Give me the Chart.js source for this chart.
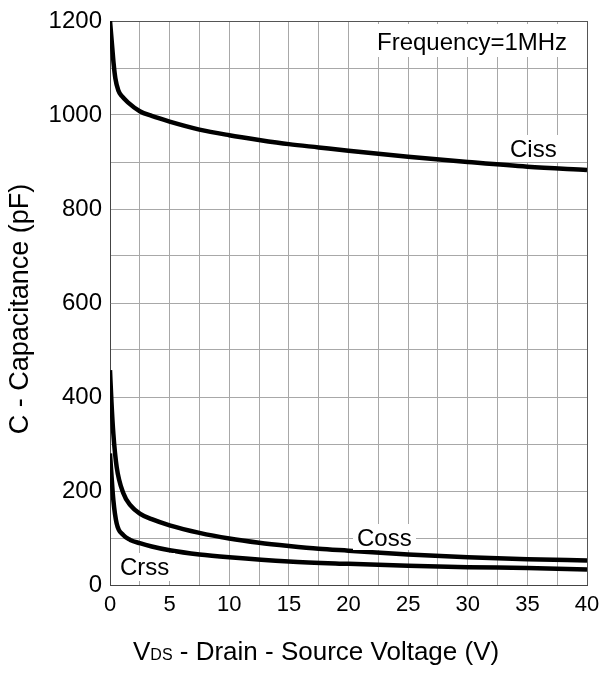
<!DOCTYPE html>
<html>
<head>
<meta charset="utf-8">
<script src="https://cdn.jsdelivr.net/npm/chart.js@4.4.1/dist/chart.umd.min.js"></script>
<style>
  html, body { margin: 0; padding: 0; background: #fff; }
  #wrap { width: 601px; height: 675px; }
</style>
</head>
<body>
<div id="wrap"><canvas id="capChart" width="601" height="675"></canvas></div>
<script>
// Capacitance vs drain-source voltage
const cissV = [0, 0.1, 0.2, 0.3, 0.45, 0.7, 1.0, 1.5, 2.5, 3.5, 5, 7.5, 10, 12.5, 15, 17.5, 20, 25, 30, 35, 40];
const cissC = [1200, 1170, 1140, 1110, 1078, 1052, 1040, 1027, 1008, 998, 986, 969, 957, 947, 938, 931, 924, 911, 900, 890, 883];

const cossV = [0, 0.12, 0.28, 0.56, 1.12, 1.7, 2.5, 3.5, 5, 7.5, 10, 12.5, 15, 17.5, 20, 25, 30, 35, 40];
const cossC = [457, 390, 322, 251, 195, 170, 152, 140, 127, 111, 99, 90, 83, 77, 73, 65, 59, 55, 52];

const crssV = [0, 0.12, 0.28, 0.56, 1.12, 1.7, 2.5, 3.5, 5, 7.5, 10, 15, 20, 25, 30, 35, 40];
const crssC = [280, 235, 181, 131, 106, 96, 89, 82, 74, 65, 59, 50, 45, 41, 38, 36, 33];

const xTickStep = 2.5;   // grid every 2.5 V, labels every 5 V
const yTickStep = 100;   // grid every 100 pF, labels every 200 pF

const FONT = '"Liberation Sans", Arial, sans-serif';

function toPoints(xs, ys) {
    return xs.map((x, i) => ({x: x, y: ys[i]}));
}

function curve(label, xs, ys) {
    return {
        label: label,
        data: toPoints(xs, ys),
        borderColor: '#000',
        borderWidth: 4.5,
        pointRadius: 0,
        fill: false,
        tension: 0.4,
        cubicInterpolationMode: 'monotone'
    };
}

// Text boxes drawn on top of the plot (white background cuts the grid)
const notes = [
    {text: 'Frequency=1MHz', x: 377, y: 50, size: 24, box: [371, 24, 577, 57]},
    {text: 'Ciss', x: 510, y: 157, size: 24, box: [506, 135, 561, 162]},
    {text: 'Coss', x: 357, y: 546, size: 24, box: [353, 524, 416, 550]},
    {text: 'Crss', x: 120, y: 575, size: 24, box: [116, 553, 175, 581]}
];

const annotatePlugin = {
    id: 'annotate',
    afterDatasetsDraw(chart) {
        const ctx = chart.ctx;
        ctx.save();
        notes.forEach(n => {
            ctx.fillStyle = '#fff';
            ctx.fillRect(n.box[0], n.box[1], n.box[2] - n.box[0], n.box[3] - n.box[1]);
            ctx.fillStyle = '#000';
            ctx.font = n.size + 'px ' + FONT;
            ctx.textBaseline = 'alphabetic';
            ctx.textAlign = 'left';
            ctx.fillText(n.text, n.x, n.y);
        });
        ctx.restore();
    },
    afterDraw(chart) {
        const ctx = chart.ctx;
        ctx.save();
        ctx.fillStyle = '#000';
        ctx.textBaseline = 'alphabetic';

        // x axis title with subscript DS
        let x = 133;
        const base = 660;
        ctx.font = '26px ' + FONT;
        ctx.fillText('V', x, base);
        x += ctx.measureText('V').width;
        ctx.font = '16px ' + FONT;
        ctx.fillText('DS', x, base);
        x += ctx.measureText('DS').width;
        ctx.font = '26px ' + FONT;
        ctx.fillText(' - Drain - Source Voltage (V)', x, base);

        // y axis title
        ctx.translate(21, 309);
        ctx.rotate(-Math.PI / 2);
        ctx.textAlign = 'center';
        ctx.textBaseline = 'middle';
        ctx.font = '27px ' + FONT;
        ctx.fillText('C - Capacitance (pF)', 0, 0);
        ctx.restore();
    }
};

new Chart(document.getElementById('capChart').getContext('2d'), {
    type: 'line',
    data: {
        datasets: [
            curve('Ciss', cissV, cissC),
            curve('Coss', cossV, cossC),
            curve('Crss', crssV, crssC)
        ]
    },
    options: {
        responsive: false,
        animation: false,
        devicePixelRatio: 1,
        layout: {
            padding: {left: 0, right: 14, top: 21, bottom: 0}
        },
        plugins: {
            legend: {display: false},
            tooltip: {enabled: false}
        },
        scales: {
            x: {
                type: 'linear',
                min: 0,
                max: 40,
                afterFit: function(scale) {
                    scale.height = 90;
                    scale.paddingLeft = 0;
                    scale.paddingRight = 0;
                },
                grid: {
                    color: ctx => (ctx.tick && ctx.tick.value === 40) ? '#555' : '#a8a8a8',
                    lineWidth: 1,
                    drawTicks: false
                },
                border: {display: true, color: '#444', width: 1},
                ticks: {
                    stepSize: xTickStep,
                    autoSkip: false,
                    maxRotation: 0,
                    padding: 7,
                    color: '#000',
                    font: {family: FONT, size: 22},
                    callback: v => (v % 5 === 0 ? v : '')
                }
            },
            y: {
                min: 0,
                max: 1200,
                afterFit: function(scale) {
                    scale.width = 110;
                    scale.paddingTop = 0;
                    scale.paddingBottom = 0;
                },
                grid: {
                    color: ctx => (ctx.tick && ctx.tick.value === 1200) ? '#555' : '#a8a8a8',
                    lineWidth: 1,
                    drawTicks: false
                },
                border: {display: true, color: '#444', width: 1},
                ticks: {
                    stepSize: yTickStep,
                    autoSkip: false,
                    padding: 8,
                    color: '#000',
                    font: {family: FONT, size: 24},
                    callback: v => (v % 200 === 0 ? v : '')
                }
            }
        }
    },
    plugins: [annotatePlugin]
});
</script>
</body>
</html>
